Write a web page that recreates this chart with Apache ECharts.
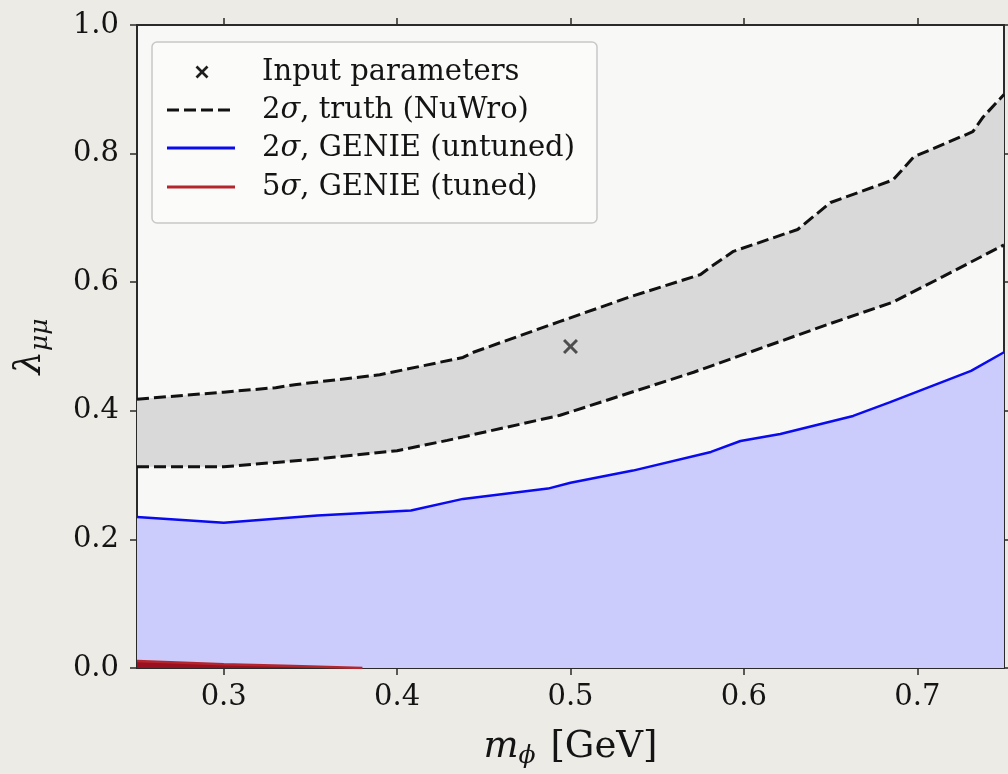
<!DOCTYPE html>
<html>
<head>
<meta charset="utf-8">
<script src="https://cdn.jsdelivr.net/npm/echarts@6/dist/echarts.min.js"></script>
<style>
  html, body { margin: 0; padding: 0; background: #ecebe6; }
  #chart { width: 1008px; height: 774px; }
</style>
</head>
<body>
<div id="chart"></div>
<script>
// ---- data ----
const xTicks = [0.3, 0.4, 0.5, 0.6, 0.7];
const yTicks = [0.0, 0.2, 0.4, 0.6, 0.8, 1.0];

const truthUpper = [
  [0.25, 0.418], [0.30, 0.429], [0.33, 0.436], [0.342, 0.441], [0.39, 0.456],
  [0.438, 0.483], [0.444, 0.491], [0.494, 0.539], [0.533, 0.576], [0.575, 0.612],
  [0.581, 0.624], [0.594, 0.648], [0.631, 0.682], [0.650, 0.724], [0.686, 0.759],
  [0.698, 0.795], [0.732, 0.834], [0.738, 0.857], [0.75, 0.892]
];
const truthLower = [
  [0.25, 0.313], [0.30, 0.313], [0.354, 0.325], [0.40, 0.338], [0.429, 0.354],
  [0.494, 0.393], [0.571, 0.460], [0.648, 0.534], [0.686, 0.569], [0.715, 0.609],
  [0.75, 0.658]
];
const genieUntuned = [
  [0.25, 0.235], [0.30, 0.226], [0.354, 0.237], [0.408, 0.245], [0.438, 0.263],
  [0.487, 0.279], [0.50, 0.288], [0.536, 0.307], [0.581, 0.336], [0.598, 0.353],
  [0.621, 0.364], [0.663, 0.392], [0.684, 0.413], [0.731, 0.462], [0.75, 0.491]
];
const genieTuned = [
  [0.25, 0.011], [0.30, 0.006], [0.34, 0.003], [0.38, 0.0]
];
const inputParams = [[0.5, 0.5]];

const legendLabels = [
  'Input parameters',
  '2{s|σ}, truth (NuWro)',
  '2{s|σ}, GENIE (untuned)',
  '5{s|σ}, GENIE (tuned)'
];

// ---- styling ----
const FONT = '"DejaVu Serif", "Liberation Serif", serif';
const AX = '#2a2a2a';
const TXT = '#141414';
const XPATH = 'path://M0,1.4 L1.4,0 L5,3.6 L8.6,0 L10,1.4 L6.4,5 L10,8.6 L8.6,10 L5,6.4 L1.4,10 L0,8.6 L3.6,5 Z';

const chart = echarts.init(document.getElementById('chart'), null, { renderer: 'canvas' });

const axisCommon = {
  type: 'value',
  splitLine: { show: false },
  axisLine: { show: true, onZero: false, lineStyle: { color: AX, width: 2 } },
  axisTick: { show: true, inside: false, length: 7, lineStyle: { color: AX, width: 1.5 } }
};

const legendRowsY = [72, 110, 148, 187];
const mx = 202, my = legendRowsY[0], mh = 5.5;
const legendGraphics = [
  { type: 'rect', shape: { x: 152, y: 42, width: 445, height: 181, r: 5 },
    style: { fill: 'rgba(251,251,250,0.92)', stroke: '#c8c8c8', lineWidth: 1.5 }, z: 100 },
  // x marker
  { type: 'line', shape: { x1: mx - mh, y1: my - mh, x2: mx + mh, y2: my + mh },
    style: { stroke: '#1e1e1e', lineWidth: 2.6 }, z: 101 },
  { type: 'line', shape: { x1: mx - mh, y1: my + mh, x2: mx + mh, y2: my - mh },
    style: { stroke: '#1e1e1e', lineWidth: 2.6 }, z: 101 },
  // dashed black
  { type: 'line', shape: { x1: 167, y1: legendRowsY[1], x2: 235, y2: legendRowsY[1] },
    style: { stroke: '#111', lineWidth: 3, lineDash: [12, 5] }, z: 101 },
  // blue
  { type: 'line', shape: { x1: 167, y1: legendRowsY[2], x2: 235, y2: legendRowsY[2] },
    style: { stroke: '#0a0af0', lineWidth: 3 }, z: 101 },
  // red
  { type: 'line', shape: { x1: 167, y1: legendRowsY[3], x2: 235, y2: legendRowsY[3] },
    style: { stroke: '#b3262e', lineWidth: 3 }, z: 101 }
];
legendLabels.forEach((t, i) => {
  legendGraphics.push({
    type: 'text', z: 101,
    style: {
      text: t, x: 262, y: legendRowsY[i],
      fontFamily: FONT, fontSize: 29, fill: TXT,
      verticalAlign: 'middle',
      rich: { s: { fontFamily: FONT, fontSize: 29, fontStyle: 'italic', fill: TXT } }
    }
  });
});

const option = {
  backgroundColor: '#ecebe6',
  animation: false,
  grid: { left: 137, right: 4, top: 25, bottom: 104, show: true, backgroundColor: '#f8f8f6', borderWidth: 0 },
  xAxis: [
    Object.assign({}, axisCommon, {
      position: 'bottom', min: 0.25, max: 0.75,
      axisTick: Object.assign({}, axisCommon.axisTick, { customValues: xTicks }),
      axisLabel: { customValues: xTicks, formatter: v => v.toFixed(1), margin: 15,
        fontFamily: FONT, fontSize: 29, color: TXT },
      name: '{i|m}{s|ϕ} [GeV]', nameLocation: 'middle', nameGap: 58,
      nameTextStyle: { fontFamily: FONT, fontSize: 37, color: TXT,
        rich: {
          i: { fontFamily: FONT, fontSize: 37, fontStyle: 'italic', color: TXT },
          s: { fontFamily: FONT, fontSize: 25, fontStyle: 'italic', color: TXT, padding: [18, 3, 0, 0] }
        } }
    }),
    Object.assign({}, axisCommon, {
      position: 'top', min: 0.25, max: 0.75,
      axisTick: Object.assign({}, axisCommon.axisTick, { customValues: xTicks }),
      axisLabel: { show: false }
    })
  ],
  yAxis: [
    Object.assign({}, axisCommon, {
      position: 'left', min: 0, max: 1, interval: 0.2,
      axisLabel: { formatter: v => v.toFixed(1), margin: 18,
        fontFamily: FONT, fontSize: 29, color: TXT },
      name: '{i|λ}{s|μμ}', nameLocation: 'middle', nameGap: 84, nameRotate: 90,
      nameTextStyle: { fontFamily: FONT, fontSize: 37, color: TXT,
        rich: {
          i: { fontFamily: FONT, fontSize: 37, fontStyle: 'italic', color: TXT },
          s: { fontFamily: FONT, fontSize: 25, fontStyle: 'italic', color: TXT, padding: [20, 0, 0, 0] }
        } }
    }),
    Object.assign({}, axisCommon, {
      position: 'right', min: 0, max: 1, interval: 0.2,
      axisLabel: { show: false }
    })
  ],
  graphic: legendGraphics,
  series: [
    {
      name: 'band', type: 'custom', xAxisIndex: 0, yAxisIndex: 0, silent: true, z: 1,
      data: [[0.5, 0.5]],
      encode: { x: 0, y: 1 },
      renderItem: (params, api) => {
        const pts = truthUpper.map(p => api.coord(p))
          .concat(truthLower.slice().reverse().map(p => api.coord(p)));
        return { type: 'polygon', shape: { points: pts }, style: { fill: '#d9d9d9' } };
      }
    },
    {
      name: '2σ, truth (NuWro) upper', type: 'line', data: truthUpper, symbol: 'none', z: 3,
      lineStyle: { color: '#111', width: 3, type: [12, 5] }
    },
    {
      name: '2σ, truth (NuWro)', type: 'line', data: truthLower, symbol: 'none', z: 3,
      lineStyle: { color: '#111', width: 3, type: [12, 5] }
    },
    {
      name: '2σ, GENIE (untuned)', type: 'line', data: genieUntuned, symbol: 'none', z: 4,
      lineStyle: { color: '#0a0af0', width: 2.5 },
      areaStyle: { color: '#cbcbfc', opacity: 1, origin: 'start' }
    },
    {
      name: '5σ, GENIE (tuned)', type: 'line', data: genieTuned, symbol: 'none', z: 5,
      lineStyle: { color: '#b3262e', width: 2.5 },
      areaStyle: { color: '#9a1020', opacity: 1, origin: 'start' }
    },
    {
      name: 'Input parameters', type: 'scatter', data: inputParams, z: 6,
      symbol: XPATH, symbolSize: 15,
      itemStyle: { color: '#2b2b2b' }
    }
  ]
};
chart.setOption(option);
</script>
</body>
</html>
